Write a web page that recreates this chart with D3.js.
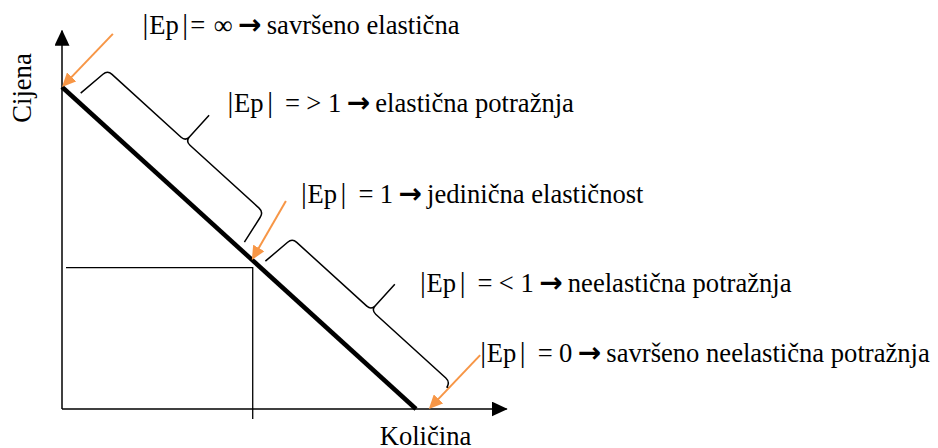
<!DOCTYPE html>
<html>
<head>
<meta charset="utf-8">
<script src="https://cdn.jsdelivr.net/npm/d3@7"></script>
<style>
  body { margin: 0; background: #fff; }
  svg { display: block; }
  text { font-family: "Liberation Serif", "Times New Roman", serif; font-size: 26.6px; fill: #000; }
</style>
</head>
<body>
<div id="chart"></div>
<script>
/* global d3 */

// demand line (quantity, price) in chart units
var demand = [{q: 0, p: 8}, {q: 8, p: 0}];
// where the axes stop (arrow tips)
var axisEnd = {q: 10.05, p: 9.4};
// unit elastic point marked with the drop lines
var unitPoint = {q: 4.31, p: 3.51};

// labels
var labelValues = ["\u221E", "> 1", "1", "< 1", "0"];
var labelWords = ["savršeno elastična", "elastična potražnja", "jedinična elastičnost",
                  "neelastična potražnja", "savršeno neelastična potražnja"];
var tightSign = [true, false, false, false, false];

// points on the demand line the orange arrows hit
var arrowTargets = [{q: 0, p: 8}, {q: 4.29, p: 3.70}, {q: 8.29, p: 0}];

// braces along the demand line, from / to in quantity units
var braces = [{from: 0.376, to: 3.90, open: false}, {from: 4.55, to: 8.12, open: true}];

// layout (chart units) for the labels and the tails of the arrows
var labelAt = [[1.82, 9.32], [3.74, 7.38], [5.40, 5.12], [8.09, 2.91], [9.45, 1.16]];
var arrowFrom = [[1.15, 9.32], [5.06, 5.17], [9.45, 1.34]];

var width = 938, height = 448;
var orange = "#F79646";

var x = d3.scaleLinear().domain([0, 10]).range([62, 504.5]);
var y = d3.scaleLinear().domain([0, 8]).range([409, 87]);

var svg = d3.select("#chart").append("svg")
    .attr("width", width)
    .attr("height", height);

var defs = svg.append("defs");
defs.append("marker")
    .attr("id", "axisHead")
    .attr("markerUnits", "userSpaceOnUse")
    .attr("markerWidth", 16).attr("markerHeight", 15)
    .attr("refX", 15).attr("refY", 7.5)
    .attr("orient", "auto")
  .append("path")
    .attr("d", "M0,0L16,7.5L0,15Z")
    .attr("fill", "#000");
defs.append("marker")
    .attr("id", "orangeHead")
    .attr("markerUnits", "userSpaceOnUse")
    .attr("markerWidth", 14).attr("markerHeight", 13)
    .attr("refX", 1).attr("refY", 6.5)
    .attr("orient", "auto")
  .append("path")
    .attr("d", "M0,0L14,6.5L0,13Z")
    .attr("fill", orange);

var line = d3.line().x(d => x(d.q)).y(d => y(d.p));

// axes
svg.append("path")
    .attr("d", line([{q: 0, p: 0}, {q: axisEnd.q, p: 0}]))
    .attr("stroke", "#000").attr("stroke-width", 1.5).attr("fill", "none")
    .attr("marker-end", "url(#axisHead)");
svg.append("path")
    .attr("d", line([{q: 0, p: 0}, {q: 0, p: axisEnd.p}]))
    .attr("stroke", "#000").attr("stroke-width", 1.5).attr("fill", "none")
    .attr("marker-end", "url(#axisHead)");

// drop lines to the unit elastic point
svg.append("path")
    .attr("d", "M" + (x(0) + 4) + "," + y(unitPoint.p) + "H" + x(unitPoint.q) + "V" + (y(0) + 10))
    .attr("stroke", "#000").attr("stroke-width", 1.3).attr("fill", "none");

// demand line
svg.append("path")
    .attr("d", line(demand))
    .attr("stroke", "#000").attr("stroke-width", 4.5).attr("fill", "none");

// geometry along the demand line for the braces
var priceAt = d3.scaleLinear().domain(demand.map(d => d.q)).range(demand.map(d => d.p));
var a0 = [x(demand[0].q), y(demand[0].p)], a1 = [x(demand[1].q), y(demand[1].p)];
var len = Math.hypot(a1[0] - a0[0], a1[1] - a0[1]);
var u = [(a1[0] - a0[0]) / len, (a1[1] - a0[1]) / len];
var n = [u[1], -u[0]];
function pt(q, d, ds) {
  ds = ds || 0;
  return [x(q) + u[0] * ds + n[0] * d, y(priceAt(q)) + u[1] * ds + n[1] * d];
}

var D = 43, T = 78, R = 6, base = 8;
braces.forEach(function(b) {
  var m = (b.from + b.to) / 2;
  var p = d3.path();
  var s = pt(b.from, base, -4.5);
  p.moveTo(s[0], s[1]);
  var c;
  c = pt(b.from, D - R, -0.8); p.lineTo(c[0], c[1]);
  var k = pt(b.from, D), e = pt(b.from, D, R); p.quadraticCurveTo(k[0], k[1], e[0], e[1]);
  c = pt(m, D, -R); p.lineTo(c[0], c[1]);
  k = pt(m, D); e = pt(m, D + R); p.quadraticCurveTo(k[0], k[1], e[0], e[1]);
  c = pt(m, T); p.lineTo(c[0], c[1]);
  c = pt(m, D + R); p.moveTo(c[0], c[1]);
  k = pt(m, D); e = pt(m, D, R); p.quadraticCurveTo(k[0], k[1], e[0], e[1]);
  c = pt(b.to, D, -R); p.lineTo(c[0], c[1]);
  k = pt(b.to, D); e = pt(b.to, D - R, 1); p.quadraticCurveTo(k[0], k[1], e[0], e[1]);
  c = b.open ? pt(b.to, D - 5, 3) : pt(b.to, base, 6);
  p.lineTo(c[0], c[1]);
  svg.append("path")
      .attr("d", p.toString())
      .attr("stroke", "#000").attr("stroke-width", 1.5)
      .attr("fill", "none").attr("stroke-linejoin", "round");
});

// orange arrows
arrowTargets.forEach(function(t, i) {
  var x1 = x(arrowFrom[i][0]), y1 = y(arrowFrom[i][1]);
  var x2 = x(t.q), y2 = y(t.p);
  var l = Math.hypot(x2 - x1, y2 - y1);
  var cut = 13;
  svg.append("line")
      .attr("x1", x1).attr("y1", y1)
      .attr("x2", x2 - (x2 - x1) / l * cut).attr("y2", y2 - (y2 - y1) / l * cut)
      .attr("stroke", orange).attr("stroke-width", 2)
      .attr("marker-end", "url(#orangeHead)");
});

// labels: |Ep| = value -> words
labelWords.forEach(function(w, i) {
  var ax = x(labelAt[i][0]);
  var t = svg.append("text")
      .attr("x", ax)
      .attr("y", y(labelAt[i][1]));
  t.append("tspan").style("font-size", "29px").text("|");
  t.append("tspan").attr("dx", 0.8).text("Ep");
  t.append("tspan").attr("dx", 3.5).style("font-size", "29px").text("|");
  t.append("tspan").attr("x", ax + (tightSign[i] ? 47.8 : 57.6)).text("=");
  t.append("tspan").attr("dx", tightSign[i] ? 8.4 : 6.2).text(labelValues[i]);
  t.append("tspan").attr("dx", 5.4)
      .style("font-family", "'DejaVu Sans'").style("font-weight", "bold")
      .style("font-size", "28px").text("\u2192");
  t.append("tspan").attr("dx", 5.2).text(w);
});

// axis titles
svg.append("text")
    .attr("text-anchor", "middle")
    .attr("transform", "translate(31," + 88 + ") rotate(-90)")
    .text("Cijena");
svg.append("text")
    .attr("text-anchor", "middle")
    .attr("x", 425.5)
    .attr("y", 444.5)
    .text("Količina");
</script>
</body>
</html>
